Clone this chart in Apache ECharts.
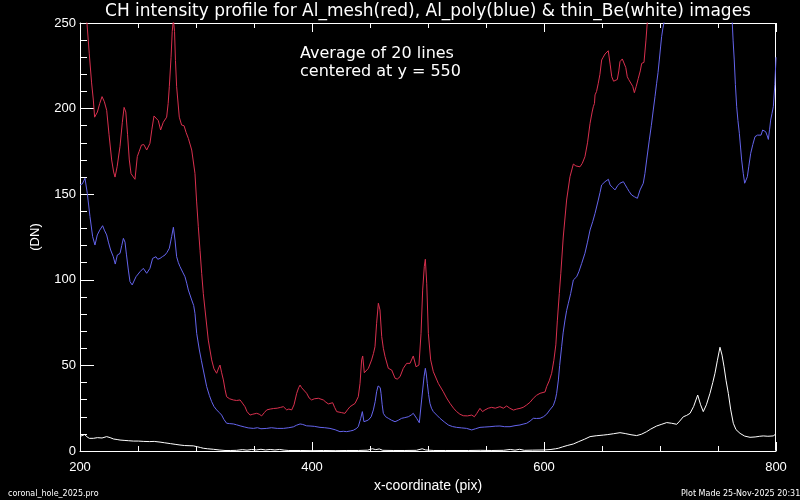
<!DOCTYPE html>
<html>
<head>
<meta charset="utf-8">
<script src="https://cdn.jsdelivr.net/npm/echarts@6/dist/echarts.min.js"></script>
<style>
html,body{margin:0;padding:0;background:#000;}
#chart{width:800px;height:500px;}
</style>
</head>
<body>
<div id="chart"></div>
<script>
// ---------- data ----------
var titleText = 'CH intensity profile for Al_mesh(red), Al_poly(blue) & thin_Be(white) images';
var noteLines = ['Average of 20 lines', 'centered at y = 550'];
var xTickLabels = [200, 400, 600, 800];
var yTickLabels = [0, 50, 100, 150, 200, 250];

var redX = [200,203,206,208,210,211.5,212.6,215,217,219,221,223,225,227.3,229,230.2,232,234.5,236.5,238,239.5,241,242.5,244,247.4,249.4,251,253,255,257.5,260.3,262,263.8,265.5,267.5,269.5,271.8,274.7,276,277,278.5,279.5,280.5,281.5,282.3,283.3,285.6,287.6,289.7,291.5,293.4,296.3,297.7,299.1,300.5,302,303.5,304.9,306.3,307.8,310.6,313.5,315.5,317.8,319.5,320.7,322,323.6,325,326.4,329,332.2,335,338,340,342.2,344,346.6,349,352.3,354.5,356.6,359,361,364,366.7,370,373,375.3,378.2,380,382.5,384.5,386.8,388.5,389.7,391,392.6,395.4,397.5,399.7,402,405.5,409.8,412,414.1,417.8,419.5,421.3,425.6,428.4,430.5,432.8,437.1,439.9,441.4,442.8,443.7,445.1,448.6,451.4,453,454.3,455.7,457.2,458.6,460.1,461.5,463,465.8,468.7,471.6,473.5,475.9,478.7,481.6,484.5,487.3,489.7,492.2,494,495.4,496.8,497.7,498.9,500.3,502.3,504.6,508.9,513.2,516,519,522,524.7,527.5,530.4,534,537.7,540,542,544.8,547,549.1,552,554.9,558,562,565,567.8,570.5,573.6,576.5,579.3,582,585.1,588,590.8,593.5,596.6,600.9,602.3,604.5,606.6,608.5,610.2,611.5,613.2,614.5,616.6,619.5,622.4,625.3,627.5,629,631,633,635.3,637.5,639.7,641.5,642.5,643.5,644,645.3,646.8,648.2,649.7,651,652.6,655.4,657,658.4,660,661.2,663.2,664.5,665.5,667.5,669,670.5,671.8,673,674.7,676.5,677.9,679.5,681.3,683,684.2,686.2,687.9,689,691,695,700,710,720,740,760,780,800];
var redY = [258,255,250,232,215,205,195,198,203,207,204,199,185,170,163,160,166,178,192,200.7,198,185,170,162,158.7,172,175,178.7,179,175.8,179.7,188,195.7,195,193,187.5,192,195,203,212.8,230,245,252,245,228,212.8,195,190.4,190,186,182.6,175.8,175,162.2,146,131,117,103.8,92,82.4,64.8,53.2,48,45.4,48.5,50.2,46,41.5,36,31.7,30.5,29.8,29.5,29.8,28,25.9,23,21,21.5,22,21.5,20.5,22.5,24,24.5,24.8,25,25.5,25.9,24,24.5,24,27,33.7,37,38.5,37,36,33.7,31,29.8,30.5,30.8,29.8,28.5,27.5,28.2,25.5,23,22.4,22,24,25.9,27.8,31.7,39.5,53.2,55.5,45.7,48.3,53.2,57,60.9,74.6,86.3,82.4,66.8,60,55.1,48.3,47.3,42.5,42,43.4,48.3,51.2,51.2,55.5,49.2,50.2,68.7,94,107.7,112,98,68.7,53.2,46.3,39.5,34.6,31,27.8,25,23,21.5,20.6,20.5,21,20,21.9,24.9,23,24,25,25.5,25,25.9,25,26.3,25,23.9,24.5,24.9,25.5,26.9,28.5,30.8,32.5,33.7,34.5,37.6,41,45.4,53,62,76,92,103.8,125,146.6,160.2,167.6,166.5,167.5,166,168,171.9,180,191.4,198,201.1,203,208,210,214.8,220,228.4,230,231.9,233.8,226,218.6,216,215.7,217,222,227.4,229,230,224,218.6,217,216.8,213,209.3,213,217.7,222,226.4,227,240,250,262,275,290,310,330,340,345,335,320];

var blueX = [200,202,204.3,205,206.3,208.6,210.9,212.9,214.9,217,219.5,221,223,224.5,226.4,228.7,230.4,232.2,234.5,236,237.4,238.8,240,241.7,243.1,245,246,248.3,251.7,254.6,257.5,260.3,262.6,265.5,267,269,271,273.3,275,277,279,280.5,281.9,283.3,284.8,286.2,288.5,290.5,292,293.4,296.3,298,299.1,300.6,302.9,304.6,306.3,309.2,311.5,313.5,315.5,317.8,320,322.1,324,326.4,329,332.2,335,338,342,345,349.4,353,356,361,365,370,375.3,380,383.9,386.5,389.7,392,395.4,398.3,402,406.9,411,415.5,420,424.1,427,429.9,433,435.6,438,439.9,442,443.4,444.8,446.5,448.6,451,452.9,454.5,455.7,457,457.8,458.8,459.5,460.5,461.5,463.5,465.8,468.5,471.6,474.5,477.3,480,483,485.5,487.3,488.8,490.2,492.5,494.5,496.6,497.7,498.5,499.4,500.5,501.7,503,504.6,507.5,510.3,514,517.5,521,524.7,529,533.3,537.7,541,544.8,549,553.4,558,562,566,570.7,575,579.3,582,585.1,588,590.8,593.5,596.6,599.5,602.3,605,608,609.8,610.9,612.4,613.5,615.2,616.5,618.1,619.5,621,623,625.3,627,628.2,630.2,632.5,635.3,637.5,639.7,642,644,646.8,648.3,649.7,651,652.6,655.5,657,659,661.2,663.5,665.5,668.4,670,671.8,673.5,675.6,678,680.5,682.8,685.6,687,688.5,690.8,692.5,694.2,695.7,697.1,698.3,699.4,700.5,701.4,702.5,703.4,705,710,720,730,740,750,758,762.3,763,764,765,766.1,767.2,768.4,769.5,770.4,771.8,773,774,775.3,776.5,778.2,780,781.9,784,787.1,788.5,790,791.1,792.5,793.4,794.5,795.4,796.5,797.7,799,800];
var blueY = [155.4,156,159.3,159.3,150.5,136.9,125.2,120.3,126.2,129,131.6,129,126.2,122,117.4,113.5,109.2,114.5,115.4,120,124.2,122,115,105.7,98.9,97,96,101.8,104.7,106.7,103.8,106.7,112.5,113.5,112,112.5,113.5,114.5,116,118.4,125.2,130.7,123.2,113.5,110,107.7,104.5,101.8,98,94,88.2,85,80.4,68.7,59,53,47.3,37.6,32.5,28.8,26,24,22.5,21,18.5,16.2,16,15.8,15.3,14.7,14,13.5,13.2,13.6,13,13.2,13.6,13.2,13.2,13.6,14.1,15,15.8,15.5,14.7,14.6,14.4,13.8,13.6,13.2,12.4,11.3,11.5,11.3,11.7,12.1,13,14.2,19.1,23,17.1,17.5,18.1,20,24,29,34.6,38,39,37,33.7,27,22,20,19.1,18,17.1,18,19.1,19.5,20,21,22,21,19.1,16.5,29.8,43.4,48.3,45,39.5,33,27.8,25,23,21,19.1,17,15.2,14.3,13.8,13.5,13.2,12.3,13,13.8,14,14.2,14.5,14.6,14.2,14.2,14.8,15.2,15.7,16.2,17.5,19.1,19,19.1,20,21.5,24,26.5,30,33.7,41.5,50,60.9,69,76.5,82,86.3,92,99.9,101,101.8,105,109.6,115.5,122,129.1,134,138.8,146.6,151,155.4,156.5,157.3,158.7,155.4,154,152.5,155,156.4,157.3,155.5,153.4,151.5,149.5,148.5,147.6,152.5,156.4,162,170,181.7,190,199.2,207,214.8,221,228.4,236,242,247,250,258,275,290,295,292,285,270,250,240,228.4,214,201.1,193,185.6,177,170,162,156.4,157,160.2,166,173.9,179,183.6,184.5,184.5,187.5,187.5,186.5,184,182,188,193.3,197,201.1,214,230];

var whiteX = [200,201.5,204,206,208,211.5,215,219,223,226,229,232,234.5,238,242,246,250.3,255,260,264,269,273,278,282,286.2,290,294,297.7,301,304,306.3,310,315,320,325,330,335,340,344,348,352,356,360,364,368,372,376,380,390,400,410,420,430,440,448,452,455,458,461,470,480,490,495,498,505,515,525,535,545,555,565,571,575,579,583,590,600,606,610,612.4,616,620,625.3,630,635,639.7,645,651.1,655,660,665.5,670,675,679.9,684,688.5,692,697.1,701,705.8,710,714.4,717,720.1,723,725.9,729,732.5,735,737.3,740,743.1,745.5,747.4,749.5,751.7,753.5,755.2,757,758.9,761,763.2,765.5,769,773,777.6,782,786,789,793,797.6,800];
var whiteY = [8.5,9.3,9.6,8.3,7.4,7.4,7.8,7.6,8.4,7.8,7.0,6.7,6.4,6.2,6.0,5.8,5.8,5.6,5.5,5.6,5.2,4.8,4.3,3.9,3.5,3.2,3.1,3.0,2.5,2.0,1.6,1.3,1.0,0.6,0.3,0.3,0.4,0.8,0.5,0.9,0.6,1.0,0.6,0.9,0.6,0.9,0.5,0.3,0.3,0.2,0.3,0.2,0.3,0.3,0.5,1.3,0.8,1.2,0.4,0.3,0.3,0.4,1.3,0.6,0.3,0.3,0.3,0.3,0.4,0.3,0.4,0.9,0.5,1.0,0.4,0.5,0.6,0.9,1.3,1.6,2.4,3.2,4.1,5.5,6.9,8.4,8.9,9.3,9.6,10.1,10.7,10.2,9.5,9.0,9.8,11.3,12.8,14.6,15.5,16.6,16.2,15.6,17.5,20,20.8,22,26,32.7,27,23,27,33.7,40,45.4,53,60.6,56,49.2,41,33.7,24,16.2,12.5,10.3,8.7,8.0,8.2,8.6,8.8,8.6,8.8,10];

function pairs(xs, ys) {
  var out = [];
  for (var i = 0; i < xs.length; i++) out.push([xs[i], ys[i]]);
  return out;
}

// ---------- chart ----------
var chart = echarts.init(document.getElementById('chart'));
chart.setOption({
  backgroundColor: '#000',
  animation: false,
  grid: {left: 80, right: 24, top: 23, bottom: 49},
  xAxis: [
    {type: 'value', min: xTickLabels[0], max: xTickLabels[xTickLabels.length - 1], interval: 200, position: 'bottom',
      name: 'x-coordinate (pix)', nameLocation: 'middle', nameGap: 20,
      nameTextStyle: {color: '#fff', fontSize: 14},
      axisLine: {show: true, lineStyle: {color: '#fff'}},
      axisTick: {show: true, inside: true, length: 9, lineStyle: {color: '#fff'}},
      minorTick: {show: true, splitNumber: 4, length: 5, lineStyle: {color: '#fff'}},
      splitLine: {show: false},
      axisLabel: {color: '#fff', fontSize: 13, margin: 10}},
    {type: 'value', min: xTickLabels[0], max: xTickLabels[xTickLabels.length - 1], interval: 200, position: 'top',
      axisLine: {show: true, lineStyle: {color: '#fff'}},
      axisTick: {show: true, inside: true, length: 9, lineStyle: {color: '#fff'}},
      minorTick: {show: true, splitNumber: 4, length: 5, lineStyle: {color: '#fff'}},
      splitLine: {show: false}, axisLabel: {show: false}}
  ],
  yAxis: [
    {type: 'value', min: yTickLabels[0], max: yTickLabels[yTickLabels.length - 1], interval: 50,
      name: '(DN)', nameLocation: 'middle', nameGap: 38, nameRotate: 90,
      nameTextStyle: {color: '#fff', fontSize: 13},
      axisLine: {show: true, lineStyle: {color: '#fff'}},
      axisTick: {show: true, inside: true, length: 14, lineStyle: {color: '#fff'}},
      minorTick: {show: true, splitNumber: 5, length: 7, lineStyle: {color: '#fff'}},
      splitLine: {show: false},
      axisLabel: {color: '#fff', fontSize: 13, margin: 4}}
  ],
  series: [
    {name: 'Al_mesh', type: 'line', data: pairs(redX, redY), symbol: 'none',
      lineStyle: {color: '#d8304e', width: 1}, itemStyle: {color: '#d8304e'}},
    {name: 'Al_poly', type: 'line', data: pairs(blueX, blueY), symbol: 'none',
      lineStyle: {color: '#6464ec', width: 1}, itemStyle: {color: '#6464ec'}},
    {name: 'thin_Be', type: 'line', data: pairs(whiteX, whiteY), symbol: 'none',
      lineStyle: {color: '#ffffff', width: 1}, itemStyle: {color: '#ffffff'}}
  ],
  graphic: [
    {type: 'rect', shape: {x: 775.5, y: 23.5, width: 0, height: 427}, style: {stroke: '#fff', lineWidth: 1, fill: null}, silent: true},
    {type: 'text', x: 428, y: 12, style: {text: titleText, fill: '#fff', font: '17px "DejaVu Sans"', align: 'center', verticalAlign: 'middle'}},
    {type: 'text', x: 300, y: 54, style: {text: noteLines[0], fill: '#fff', font: '16px "DejaVu Sans"', align: 'left', verticalAlign: 'middle'}},
    {type: 'text', x: 300, y: 72, style: {text: noteLines[1], fill: '#fff', font: '16px "DejaVu Sans"', align: 'left', verticalAlign: 'middle'}},
    {type: 'text', x: 8, y: 494, style: {text: 'coronal_hole_2025.pro', fill: '#fff', font: '8px "DejaVu Sans"', align: 'left', verticalAlign: 'middle'}},
    {type: 'text', x: 681, y: 494, style: {text: 'Plot Made 25-Nov-2025 20:31', fill: '#fff', font: '8px "DejaVu Sans"', align: 'left', verticalAlign: 'middle'}}
  ]
});
</script>
</body>
</html>
